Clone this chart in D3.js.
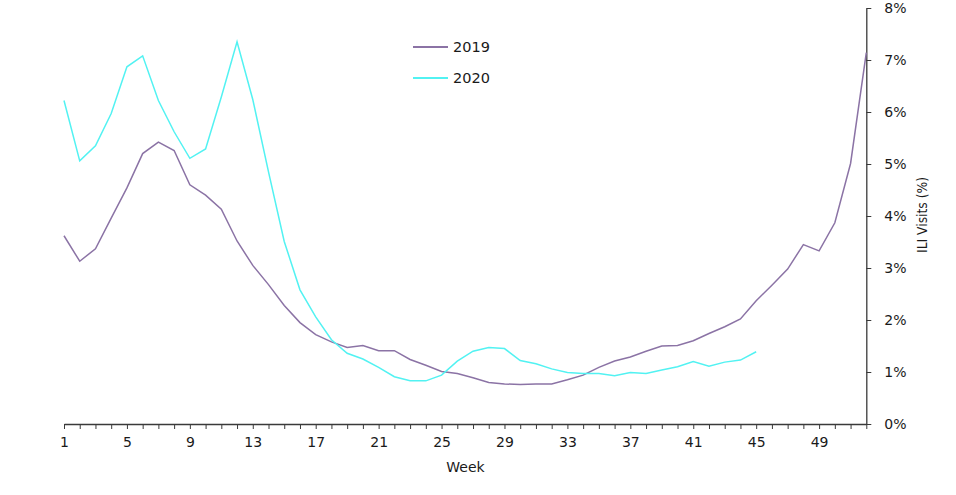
<!DOCTYPE html>
<html>
<head>
<meta charset="utf-8">
<script src="https://cdn.jsdelivr.net/npm/d3@7/dist/d3.min.js"></script>
<style>
  html, body { margin: 0; padding: 0; background: #ffffff; }
  svg { display: block; }
  text { font-family: "DejaVu Sans", Verdana, sans-serif; fill: #1a1a1a; }
</style>
</head>
<body>
<svg id="chart" width="956" height="495"></svg>
<script>
const weeks = [1,2,3,4,5,6,7,8,9,10,11,12,13,14,15,16,17,18,19,20,21,22,23,24,25,26,
  27,28,29,30,31,32,33,34,35,36,37,38,39,40,41,42,43,44,45,46,47,48,49,50,51,52];
const weekLabels = [1,5,9,13,17,21,25,29,33,37,41,45,49];
const yTicks = [0,1,2,3,4,5,6,7,8];
const seriesNames = ["2019", "2020"];
const values2019 = [3.62,3.13,3.37,3.96,4.54,5.20,5.42,5.26,4.60,4.40,4.13,3.52,3.05,2.68,2.28,1.95,
  1.72,1.58,1.47,1.51,1.41,1.41,1.24,1.13,1.01,0.97,0.89,0.80,0.77,0.76,0.77,0.77,0.85,0.94,
  1.09,1.21,1.29,1.40,1.50,1.51,1.60,1.74,1.87,2.02,2.37,2.67,2.98,3.45,3.33,3.87,5.01,7.14];
const values2020 = [6.22,5.06,5.35,5.97,6.87,7.08,6.22,5.62,5.11,5.29,6.29,7.35,6.24,4.85,3.51,2.58,
  2.06,1.62,1.36,1.25,1.09,0.91,0.83,0.83,0.94,1.21,1.40,1.47,1.45,1.22,1.16,1.06,0.99,0.97,
  0.97,0.93,0.99,0.97,1.04,1.10,1.20,1.11,1.19,1.23,1.39];

const colors = { "2019": "#8b73a5", "2020": "#52f2f2" };
const series = [
  { name: seriesNames[0], values: values2019 },
  { name: seriesNames[1], values: values2020 }
];

const svg = d3.select("#chart");
const x = d3.scaleLinear().domain([1, 52]).range([64, 866.3]);
const y = d3.scaleLinear().domain([0, 8]).range([424, 8]);
const axisColor = "#3a3a3a";

// X axis
const xAxis = svg.append("g").attr("transform", `translate(0,${y(0)})`)
  .call(d3.axisBottom(x).tickValues(weeks).tickSize(5).tickSizeOuter(0)
    .tickFormat(d => weekLabels.includes(d) ? d : ""));
xAxis.select(".domain").attr("stroke", axisColor).attr("stroke-width", 1.3);
xAxis.selectAll(".tick line").attr("stroke", axisColor).attr("stroke-width", 1);
xAxis.selectAll(".tick text").attr("font-size", 14).attr("dy", "1.05em")
  .attr("font-family", "DejaVu Sans").attr("fill", "#1a1a1a");

// Y axis on right
const yAxis = svg.append("g").attr("transform", `translate(${x(52)},0)`)
  .call(d3.axisRight(y).tickValues(yTicks).tickSize(5).tickSizeOuter(0)
    .tickFormat(d => d + "%"));
yAxis.select(".domain").attr("stroke", axisColor).attr("stroke-width", 1.3);
yAxis.selectAll(".tick line").attr("stroke", axisColor).attr("stroke-width", 1);
yAxis.selectAll(".tick text").attr("font-size", 14).attr("x", 18)
  .attr("font-family", "DejaVu Sans").attr("fill", "#1a1a1a");

// Axis titles
svg.append("text").attr("x", 465.5).attr("y", 472).attr("text-anchor", "middle")
  .attr("font-size", 14).text("Week");
svg.append("text").attr("transform", "translate(927,215) rotate(-90)")
  .attr("text-anchor", "middle").attr("font-size", 14).attr("textLength", 76)
  .attr("lengthAdjust", "spacingAndGlyphs")
  .text("ILI Visits (%)");

// Lines
const line = d3.line().x((d, i) => x(weeks[i])).y(d => y(d));
svg.append("g").selectAll("path").data(series).join("path")
  .attr("d", d => line(d.values))
  .attr("fill", "none")
  .attr("stroke", d => colors[d.name])
  .attr("stroke-width", 1.5)
  .attr("stroke-linejoin", "miter");

// Legend
const legend = svg.append("g").selectAll("g").data(seriesNames).join("g")
  .attr("transform", (d, i) => `translate(413,${47 + i * 31})`);
legend.append("line").attr("x1", 0).attr("x2", 35).attr("y1", 0).attr("y2", 0)
  .attr("stroke", d => colors[d]).attr("stroke-width", 2);
legend.append("text").attr("x", 40).attr("y", 0).attr("dy", "0.36em")
  .attr("font-size", 14.5).text(d => d);
</script>
</body>
</html>
